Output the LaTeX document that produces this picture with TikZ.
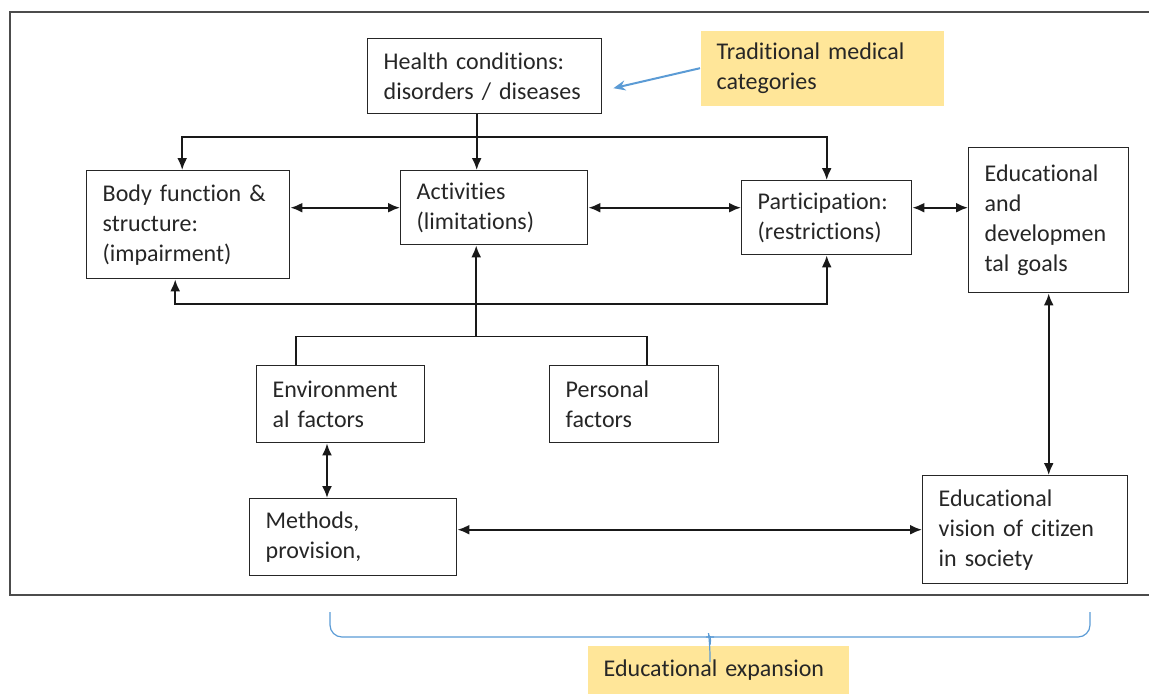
\documentclass[tikz,border=0pt]{standalone}
\usepackage{fontspec}
\setmainfont{Carlito}[RawFeature=-liga]
\usetikzlibrary{calc}
\usetikzlibrary{arrows.meta}
\definecolor{notefill}{HTML}{FFE699}
\definecolor{noteline}{HTML}{5B9BD5}
\definecolor{inkgray}{HTML}{262626}

\begin{document}
\begin{tikzpicture}[x=0.5pt, y=-0.5pt,
blk/.style={
  draw=black!85, line width=0.7pt,
  anchor=north west,
  align=left,
  inner xsep=8pt, inner ysep=0pt,
  text=inkgray,
  font=\fontsize{12}{15}\selectfont
},
note/.style={blk, draw=none, fill=notefill},
line/.style={line width=1pt, draw=black!90},
arr/.style={line, -{Latex[length=6pt,width=5pt]}},
dbl/.style={line, {Latex[length=6pt,width=5pt]}-{Latex[length=6pt,width=5pt]}}
]
\clip (0,0) rectangle (1149,693);
\draw [draw=black!70, line width=1pt] (10,12) rectangle (1175,595);

\node (health) [blk, text width=101pt, minimum height=37.5pt] at (367,38)
  {Health conditions:\\disorders / diseases};
\node (trad) [note, text width=105.5pt, minimum height=37.5pt] at (700,30)
  {Traditional medical\\categories};
\node (body) [blk, text width=85.5pt, minimum height=54pt] at (86,170)
  {Body function \&\\structure:\\(impairment)};
\node (act) [blk, text width=77.5pt, minimum height=37pt] at (400,170)
  {Activities\\(limitations)};
\node (part) [blk, text width=69pt, minimum height=37pt] at (741,180)
  {Participation:\\(restrictions)};
\node (goals) [blk, text width=64pt, minimum height=72.5pt] at (968,147)
  {Educational\\and\\developmen\\tal goals};
\node (env) [blk, text width=68pt, minimum height=38.5pt] at (256,365)
  {Environment\\al factors};
\node (pers) [blk, text width=68.5pt, minimum height=38.5pt] at (549,365)
  {Personal\\factors};
\node (meth) [blk, text width=87.5pt, minimum height=38.5pt] at (249,498)
  {Methods,\\provision,};
\node (vis) [blk, text width=86.5pt, minimum height=54pt] at (922,475)
  {Educational\\vision of citizen\\in society};
\node (exp) [note, text width=114.5pt, minimum height=24pt] at (587,645)
  {Educational expansion};

\coordinate (hs) at ($(health.south)+(-8,0)$);
\coordinate (hub) at ($(hs)+(0,23)$);
\draw [arr] (hs) -- (hs |- act.north);
\draw [arr] (hub) -| ($(body.north)+(-6,0)$);
\draw [arr] (hub) -| (part.north);

\draw [dbl] (act.west -| body.east) -- (act.west);
\draw [dbl] (act.east) -- (act.east -| part.west);
\draw [dbl] (act.east -| part.east) -- (act.east -| goals.west);

\coordinate (low) at ($(act.south)+(0,59)$);
\draw [dbl] ($(body.south)+(-13,0)$) |- (low) -| (part.south);

\coordinate (up) at ($(act.south)+(-18,0)$);
\coordinate (fork) at ($(up)+(0,91)$);
\draw [arr] (fork) -- (up);
\draw [line, line width=0.8pt] ($(env.north west)+(40,0)$) |- (fork)
  -| ($(pers.north west)+(98,0)$);

\coordinate (em) at ($(env.south west)+(71,0)$);
\draw [dbl] (em) -- (em |- meth.north);
\draw [dbl] (vis.west -| meth.east) -- (vis.west);
\draw [dbl] (goals.south) -- (goals.south |- vis.north);

\draw [noteline, line width=1pt, -{Stealth[length=6pt,width=5pt]}]
  (trad.west) -- ($(health.east)+(11,12)$);

\coordinate (bl) at (330,612);
\coordinate (br) at (1090,612);
\coordinate (bt) at ($(exp.north west)+(123,17)$);
\draw [noteline, line width=0.6pt, rounded corners=6]
  (bl) |- ($(bt)+(-8,-25)$) .. controls ($(bt)+(-1,-25)$) .. ($(bt)+(0,-17)$)
  -- (bt);
\draw [noteline, line width=0.6pt, rounded corners=6]
  (br) |- ($(bt)+(8,-25)$) .. controls ($(bt)+(1,-25)$) .. ($(bt)+(0,-17)$);
\end{tikzpicture}
\end{document}
